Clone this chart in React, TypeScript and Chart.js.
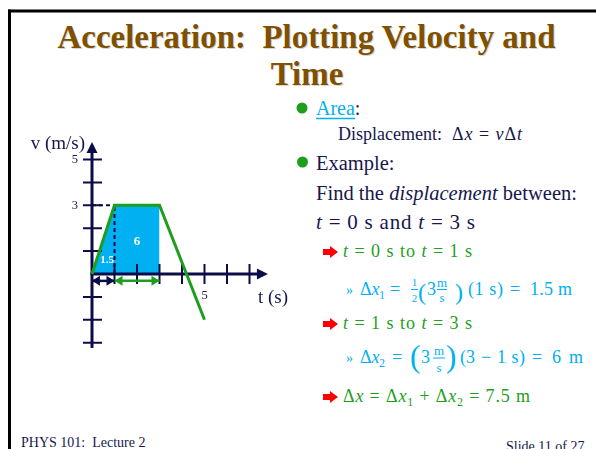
import React, { useEffect, useRef } from 'react';
import { Chart, registerables } from 'chart.js';

Chart.register(...registerables);

// ---------------- chart data ----------------
const VELOCITY_T = [0, 1, 3, 5];
const VELOCITY_V = [0, 3, 3, -2];
const AREA_T = [0, 1, 3];
const AREA_V = [0, 3, 3];
const AREA_LABELS = ['1.5', '6'];
const AREA_LABEL_T = [0.67, 2];
const AREA_LABEL_V = [0.6, 1.4];
const GUIDE_VERT_T = [1, 1];
const GUIDE_VERT_V = [0, 3];
const GUIDE_HORZ_T = [0, 1];
const GUIDE_HORZ_V = [3, 3];
const SPAN1_T = [0, 1];
const SPAN2_T = [1, 3];
const SPAN_V = [-0.3, -0.3];
const Y_TICKS = [-3, -2, -1, 1, 2, 3, 4, 5];
const X_TICKS = [1, 2, 3, 4, 5, 6, 7];
const Y_TICK_LABELS = [5, 3];
const X_TICK_LABELS = [5];
const X_AXIS_END = 7.82;
const Y_AXIS_TOP = 5.76;
const Y_AXIS_BOTTOM = -3.23;
const X_AXIS_TITLE = 't (s)';
const Y_AXIS_TITLE = 'v (m/s)';

// ---------------- layout ----------------
const CL = 20, CT = 130, CW = 280, CH = 230;
const ORIGIN_X = 92, ORIGIN_Y = 274, PX_T = 22.5, PX_V = 22.9;
const X_MIN = (CL - ORIGIN_X) / PX_T;
const X_MAX = (CL + CW - ORIGIN_X) / PX_T;
const Y_MAX = (ORIGIN_Y - CT) / PX_V;
const Y_MIN = (ORIGIN_Y - CT - CH) / PX_V;

const NAVY = '#17174D';
const AXIS = '#0C0C48';
const GREEN = '#1E9E1E';
const BLUE = '#00B0F0';
const BROWN = '#7F5000';
const SERIF = "'Liberation Serif', 'Times New Roman', serif";

const pts = (xs: number[], ys: number[]) => xs.map((x, i) => ({ x, y: ys[i] }));

const slidePlugin = {
  id: 'slideAxes',
  afterDatasetDraw(chart: any, args: any) {
    if (args.index !== 0) return;
    const ctx = chart.ctx as CanvasRenderingContext2D;
    const xs = chart.scales.x, ys = chart.scales.y;
    const x0 = xs.getPixelForValue(0), y0 = ys.getPixelForValue(0);
    ctx.save();
    ctx.strokeStyle = AXIS;
    ctx.fillStyle = AXIS;
    // y axis
    const yTip = ys.getPixelForValue(Y_AXIS_TOP);
    ctx.lineWidth = 3;
    ctx.beginPath();
    ctx.moveTo(x0, ys.getPixelForValue(Y_AXIS_BOTTOM));
    ctx.lineTo(x0, yTip + 8);
    ctx.stroke();
    ctx.beginPath();
    ctx.moveTo(x0, yTip);
    ctx.lineTo(x0 - 5.5, yTip + 11);
    ctx.lineTo(x0 + 5.5, yTip + 11);
    ctx.closePath();
    ctx.fill();
    // x axis
    const xTip = xs.getPixelForValue(X_AXIS_END);
    ctx.beginPath();
    ctx.moveTo(x0 - 1.5, y0);
    ctx.lineTo(xTip - 8, y0);
    ctx.stroke();
    ctx.beginPath();
    ctx.moveTo(xTip, y0);
    ctx.lineTo(xTip - 11, y0 - 5.5);
    ctx.lineTo(xTip - 11, y0 + 5.5);
    ctx.closePath();
    ctx.fill();
    // ticks
    ctx.lineWidth = 2;
    ctx.beginPath();
    Y_TICKS.forEach((v) => {
      const y = ys.getPixelForValue(v);
      ctx.moveTo(x0 - 9, y);
      ctx.lineTo(x0 + 10, y);
    });
    X_TICKS.forEach((t) => {
      const x = xs.getPixelForValue(t);
      ctx.moveTo(x, y0 - 10);
      ctx.lineTo(x, y0 + 10);
    });
    ctx.stroke();
    // tick labels
    ctx.fillStyle = NAVY;
    ctx.font = `12.5px ${SERIF}`;
    ctx.textBaseline = 'middle';
    ctx.textAlign = 'right';
    Y_TICK_LABELS.forEach((v) => ctx.fillText(String(v), x0 - 14, ys.getPixelForValue(v)));
    ctx.textAlign = 'center';
    X_TICK_LABELS.forEach((t) => ctx.fillText(String(t), xs.getPixelForValue(t), y0 + 22));
    // axis titles
    ctx.font = `19px ${SERIF}`;
    ctx.textAlign = 'left';
    ctx.fillText(X_AXIS_TITLE, xTip - 10, y0 + 24);
    ctx.textAlign = 'right';
    ctx.fillText(Y_AXIS_TITLE, x0 - 7, yTip + 2);
    ctx.restore();
  },
  afterDatasetsDraw(chart: any) {
    const ctx = chart.ctx as CanvasRenderingContext2D;
    const xs = chart.scales.x, ys = chart.scales.y;
    ctx.save();
    chart.data.datasets.forEach((ds: any, i: number) => {
      if (!ds.arrows) return;
      const meta = chart.getDatasetMeta(i);
      const a = meta.data[0], b = meta.data[meta.data.length - 1];
      ctx.fillStyle = ds.borderColor;
      ctx.beginPath();
      ctx.moveTo(a.x, a.y);
      ctx.lineTo(a.x + 8, a.y - 5);
      ctx.lineTo(a.x + 8, a.y + 5);
      ctx.closePath();
      ctx.moveTo(b.x, b.y);
      ctx.lineTo(b.x - 8, b.y - 5);
      ctx.lineTo(b.x - 8, b.y + 5);
      ctx.closePath();
      ctx.fill();
    });
    ctx.fillStyle = '#FFFFFF';
    ctx.textAlign = 'center';
    ctx.textBaseline = 'middle';
    AREA_LABELS.forEach((lab, i) => {
      ctx.font = `bold ${i === 0 ? 11 : 13}px ${SERIF}`;
      ctx.fillText(lab, xs.getPixelForValue(AREA_LABEL_T[i]), ys.getPixelForValue(AREA_LABEL_V[i]));
    });
    ctx.restore();
  },
};

function VelocityChart() {
  const ref = useRef<HTMLCanvasElement>(null);
  useEffect(() => {
    const canvas = ref.current;
    if (!canvas) return;
    const chart = new Chart(canvas, {
      type: 'line',
      data: {
        datasets: [
          {
            data: pts(AREA_T, AREA_V),
            fill: 'origin',
            backgroundColor: BLUE,
            borderWidth: 0,
            borderColor: 'rgba(0,0,0,0)',
            pointRadius: 0,
            order: 10,
          },
          {
            data: pts(VELOCITY_T, VELOCITY_V),
            borderColor: GREEN,
            borderWidth: 3,
            pointRadius: 0,
            fill: false,
            order: 1,
          },
          {
            data: pts(GUIDE_VERT_T, GUIDE_VERT_V),
            borderColor: AXIS,
            borderWidth: 2,
            borderDash: [4, 3],
            pointRadius: 0,
            fill: false,
            order: 3,
          },
          {
            data: pts(GUIDE_HORZ_T, GUIDE_HORZ_V),
            borderColor: AXIS,
            borderWidth: 2,
            borderDash: [4, 3],
            pointRadius: 0,
            fill: false,
            order: 3,
          },
          {
            data: pts(SPAN1_T, SPAN_V),
            borderColor: AXIS,
            borderWidth: 2.5,
            pointRadius: 0,
            fill: false,
            arrows: true,
            order: 2,
          } as any,
          {
            data: pts(SPAN2_T, SPAN_V),
            borderColor: GREEN,
            borderWidth: 2.5,
            pointRadius: 0,
            fill: false,
            arrows: true,
            order: 2,
          } as any,
        ],
      },
      options: {
        animation: false,
        responsive: false,
        maintainAspectRatio: false,
        devicePixelRatio: 1,
        layout: { padding: 0 },
        plugins: { legend: { display: false }, tooltip: { enabled: false } },
        elements: { line: { tension: 0 } },
        scales: {
          x: { type: 'linear', min: X_MIN, max: X_MAX, display: false },
          y: { type: 'linear', min: Y_MIN, max: Y_MAX, display: false },
        },
      },
      plugins: [slidePlugin],
    });
    return () => chart.destroy();
  }, []);
  return (
    <canvas
      ref={ref}
      width={CW}
      height={CH}
      style={{ position: 'absolute', left: CL, top: CT, width: CW, height: CH }}
    />
  );
}

function RedArrow({ x, y }: { x: number; y: number }) {
  return <path d={`M${x} ${y - 3} h7 v-3 l8 6 l-8 6 v-3 h-7 z`} fill="#FF0000" />;
}

const it = { fontStyle: 'italic' as const };
const TITLE_1 = 'Acceleration:\u00A0 Plotting Velocity and';
const TITLE_2 = 'Time';
const FOOTER_L = 'PHYS 101:\u00A0 Lecture 2';
const FOOTER_R = 'Slide 11 of 27';

function SlideText() {
  return (
    <svg
      width={596}
      height={449}
      style={{ position: 'absolute', left: 0, top: 0 }}
      fontFamily={SERIF}
    >
      <line x1={8} y1={11} x2={596} y2={11} stroke="#000" strokeWidth={3} />
      <line x1={9.5} y1={9.5} x2={9.5} y2={449} stroke="#000" strokeWidth={3} />

      {/* title */}
      <g fontWeight="bold" fontSize={33} textAnchor="middle">
        <text x={307.5} y={49.2} fill="#DAD5CC" textLength={498} lengthAdjust="spacingAndGlyphs">
          {TITLE_1}
        </text>
        <text x={308} y={86.2} fill="#DAD5CC">{TITLE_2}</text>
        <text x={306.5} y={48} fill={BROWN} textLength={498} lengthAdjust="spacingAndGlyphs">
          {TITLE_1}
        </text>
        <text x={307} y={85} fill={BROWN}>{TITLE_2}</text>
      </g>

      {/* bullets */}
      <circle cx={302} cy={108} r={5.5} fill={GREEN} />
      <text x={316} y={115} fontSize={20} fill={NAVY}>
        <tspan fill={BLUE}>Area</tspan>:
      </text>
      <line x1={316} y1={118.5} x2={355} y2={118.5} stroke={BLUE} strokeWidth={1.5} />
      <text x={338} y={140} fontSize={18} fill={NAVY}>Displacement:</text>
      <text x={452} y={140} fontSize={18} fill={NAVY} textLength={70}>
        Δ<tspan {...it}>x</tspan> = <tspan {...it}>v</tspan>Δ<tspan {...it}>t</tspan>
      </text>

      <circle cx={302.5} cy={162} r={5.5} fill={GREEN} />
      <text x={316} y={170} fontSize={20.5} fill={NAVY}>Example:</text>
      <text x={316} y={200} fontSize={20.5} fill={NAVY} textLength={261}>
        Find the <tspan {...it}>displacement</tspan> between:
      </text>
      <text x={316} y={229} fontSize={21} fill={NAVY} textLength={159}>
        <tspan {...it}>t</tspan> = 0 s and <tspan {...it}>t</tspan> = 3 s
      </text>

      {/* step 1 */}
      <RedArrow x={323} y={252} />
      <text x={343} y={257} fontSize={18} fill={GREEN} textLength={129}>
        <tspan {...it}>t</tspan> = 0 s to <tspan {...it}>t</tspan> = 1 s
      </text>
      <g fill={BLUE}>
        <text x={346} y={295} fontSize={14}>»</text>
        <text x={360} y={295} fontSize={18}>Δ<tspan {...it}>x</tspan></text>
        <text x={379} y={299} fontSize={12}>1</text>
        <text x={390} y={295} fontSize={18}>=</text>
        <text x={414.5} y={285.5} fontSize={11} textAnchor="middle">1</text>
        <line x1={411} y1={289.5} x2={418} y2={289.5} stroke={BLUE} strokeWidth={1} />
        <text x={414.5} y={302} fontSize={11} textAnchor="middle">2</text>
        <text x={418} y={300} fontSize={24}>(</text>
        <text x={427} y={295} fontSize={18}>3</text>
        <text x={442} y={287} fontSize={13} textAnchor="middle">m</text>
        <line x1={437} y1={289.5} x2={447} y2={289.5} stroke={BLUE} strokeWidth={1} />
        <text x={442} y={302} fontSize={13} textAnchor="middle">s</text>
        <text x={455} y={300} fontSize={24}>)</text>
        <text x={468} y={295} fontSize={18} textLength={35}>(1 s)</text>
        <text x={510} y={295} fontSize={18}>=</text>
        <text x={530} y={295} fontSize={18} textLength={42}>1.5 m</text>
      </g>

      {/* step 2 */}
      <RedArrow x={323} y={324} />
      <text x={343} y={329} fontSize={18} fill={GREEN} textLength={129}>
        <tspan {...it}>t</tspan> = 1 s to <tspan {...it}>t</tspan> = 3 s
      </text>
      <g fill={BLUE}>
        <text x={346} y={363} fontSize={14}>»</text>
        <text x={360} y={363} fontSize={18}>Δ<tspan {...it}>x</tspan></text>
        <text x={379} y={367} fontSize={12}>2</text>
        <text x={392} y={363} fontSize={18}>=</text>
        <text x={410} y={366.5} fontSize={31}>(</text>
        <text x={421} y={363} fontSize={18}>3</text>
        <text x={439} y={355} fontSize={13} textAnchor="middle">m</text>
        <line x1={433} y1={358} x2={445} y2={358} stroke={BLUE} strokeWidth={1} />
        <text x={439} y={372} fontSize={13} textAnchor="middle">s</text>
        <text x={446} y={366.5} fontSize={31}>)</text>
        <text x={460} y={363} fontSize={18} textLength={15}>(3</text>
        <text x={481} y={363} fontSize={18}>−</text>
        <text x={497} y={363} fontSize={18} textLength={28}>1 s)</text>
        <text x={532} y={363} fontSize={18}>=</text>
        <text x={552} y={363} fontSize={18} textLength={31}>6 m</text>
      </g>

      {/* total */}
      <RedArrow x={323} y={397} />
      <text x={343} y={402} fontSize={18} fill={GREEN} textLength={187}>
        Δ<tspan {...it}>x</tspan> = Δ<tspan {...it}>x</tspan>
        <tspan fontSize={12} dy={4}>1</tspan>
        <tspan dy={-4}> + Δ</tspan>
        <tspan {...it}>x</tspan>
        <tspan fontSize={12} dy={4}>2</tspan>
        <tspan dy={-4}> = 7.5 m</tspan>
      </text>

      {/* footer */}
      <text x={21} y={447} fontSize={14} fill={NAVY}>{FOOTER_L}</text>
      <text x={506} y={451} fontSize={14} fill={NAVY}>{FOOTER_R}</text>
    </svg>
  );
}

export default function App() {
  return (
    <div
      style={{
        position: 'fixed',
        left: 0,
        top: 0,
        width: 596,
        height: 449,
        overflow: 'hidden',
        background: '#FFFFFF',
      }}
    >
      <SlideText />
      <VelocityChart />
    </div>
  );
}
